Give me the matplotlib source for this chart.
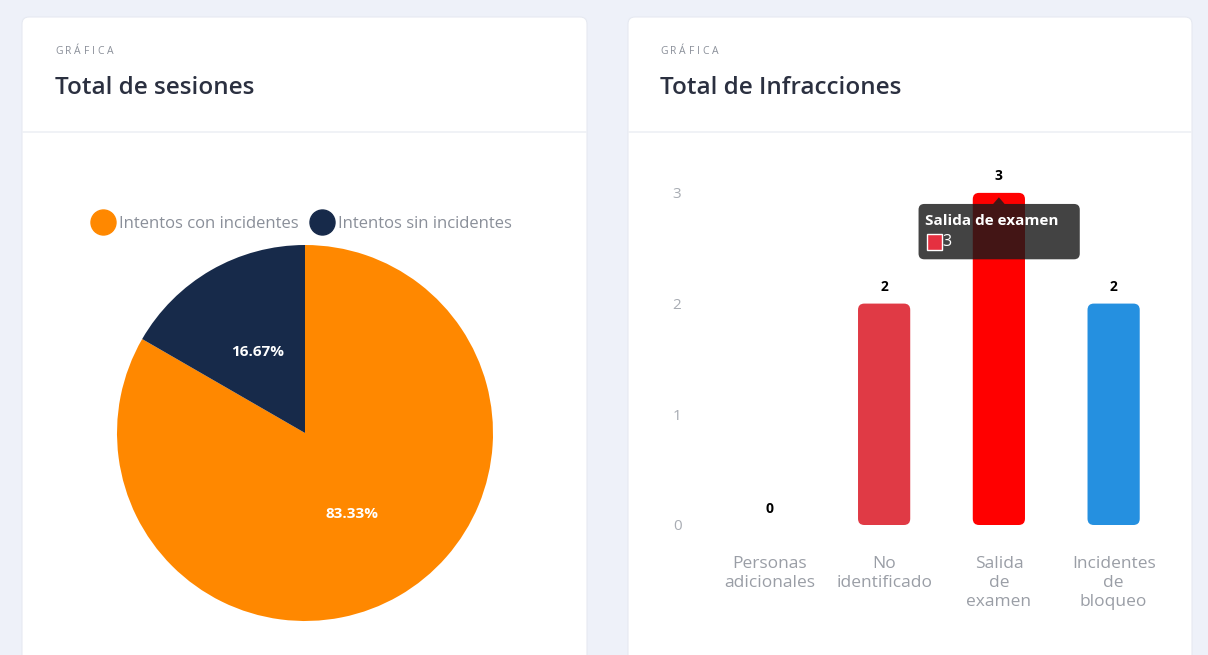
import matplotlib.pyplot as plt
from matplotlib.patches import FancyBboxPatch, Polygon
from matplotlib.lines import Line2D


W, H = 1208, 655

plt.rcParams.update({
    "font.family": ["Open Sans", "DejaVu Sans"],
    "figure.dpi": 100,
})

# session shares
session_labels = ["Intentos con incidentes", "Intentos sin incidentes"]
session_values = [83.33, 16.67]
session_colors = ["#ff8800", "#172a4a"]

# infractions per type
infraction_labels = ["Personas\nadicionales", "No\nidentificado",
                     "Salida\nde\nexamen", "Incidentes\nde\nbloqueo"]
infraction_values = [0, 2, 3, 2]
infraction_colors = ["#e03a45", "#e03a45", "#ff0000", "#2590e0"]
y_ticks = [0, 1, 2, 3]

tooltip_index = 2
tooltip_title = "Salida de examen"

bg_color = "#eef1f9"
title_color = "#2b3040"
muted = "#8a8f99"
bold = dict(fontweight="bold", fontstretch="normal")


def px_box(x0, y0, x1, y1):
    # pixel box (top-left origin) -> figure fraction rect
    return [x0 / W, 1 - y1 / H, (x1 - x0) / W, (y1 - y0) / H]


def spaced_text(ax, x, y, s, gap, **kw):
    # draw text one letter at a time with extra tracking
    r = fig.canvas.get_renderer()
    for ch in s:
        t = ax.text(x, y, ch, **kw)
        x += t.get_window_extent(r).width + gap


fig = plt.figure(figsize=(W / 100, H / 100), dpi=100)
fig.patch.set_facecolor(bg_color)

# background canvas in pixel coordinates
bg = fig.add_axes([0, 0, 1, 1])
bg.set_xlim(0, W)
bg.set_ylim(H, 0)
bg.axis("off")

for x0, x1 in [(22, 587), (628, 1192)]:
    card = FancyBboxPatch((x0, 17), x1 - x0, 660, boxstyle="round,pad=0,rounding_size=7",
                          facecolor="white", edgecolor="#e6e9f1", linewidth=0.8)
    bg.add_patch(card)
    bg.plot([x0 + 1, x1 - 1], [132, 132], color="#edf0f5", lw=1.2)

for x0, title in [(55, "Total de sesiones"), (660, "Total de Infracciones")]:
    spaced_text(bg, x0, 52, "GRÁFICA", 2.8, fontsize=7.5, color=muted,
                va="center", ha="left")
    bg.text(x0, 88, title, fontsize=17.5, fontweight="semibold", color=title_color,
            va="center", ha="left")


# pie chart
pax = fig.add_axes(px_box(117, 245, 493, 621))
wedges, texts, autotexts = pax.pie(
    session_values,
    colors=session_colors,
    startangle=90,
    counterclock=False,
    autopct="%.2f%%",
    pctdistance=0.5,
    textprops=dict(color="white", fontsize=11, **bold),
)
pax.set_xlim(-1, 1)
pax.set_ylim(-1, 1)
pax.set_aspect("equal")

handles = [
    Line2D([0], [0], marker="o", linestyle="none", markersize=18,
           markerfacecolor=c, markeredgecolor=c, label=l)
    for l, c in zip(session_labels, session_colors)
]
leg = fig.legend(handles=handles, loc="center", ncol=2, frameon=False,
                 bbox_to_anchor=(302 / W, 1 - 224 / H), handletextpad=0.35,
                 columnspacing=0.7, fontsize=12, handlelength=1.3)
for t in leg.get_texts():
    t.set_color(muted)


# bar chart
bax = fig.add_axes(px_box(712, 160, 1171, 525))
bax.set_xlim(-0.5, 3.5)
bax.set_ylim(0, 3.297)
bax.patch.set_alpha(0)

bar_w = 0.455
aspect = (1 / 110.7) / (1 / 114.7)
for i, (v, c) in enumerate(zip(infraction_values, infraction_colors)):
    if v > 0:
        bar = FancyBboxPatch((i - bar_w / 2, 0), bar_w, v,
                             boxstyle="round,pad=0,rounding_size=0.055",
                             mutation_aspect=aspect, facecolor=c, edgecolor="none")
        bax.add_patch(bar)
    bax.text(i, v + 0.085, str(v), ha="center", va="bottom", fontsize=10,
             color="black", **bold)

bax.set_yticks(y_ticks)
bax.set_yticklabels([str(t) for t in y_ticks])
bax.set_xticks(range(len(infraction_labels)))
bax.set_xticklabels(infraction_labels, linespacing=1.25)
bax.tick_params(axis="y", length=0, pad=22, labelsize=11, labelcolor="#a8acb3")
bax.tick_params(axis="x", length=0, pad=22, labelsize=12.5, labelcolor="#9a9ea6")
for s in bax.spines.values():
    s.set_visible(False)

# tooltip over the hovered bar
tx = tooltip_index
tv = infraction_values[tooltip_index]
tip_x0, tip_x1 = tx - 0.7, tx + 0.705
tip_y1 = tv - 0.1
tip_y0 = tv - 0.6
tip = FancyBboxPatch((tip_x0, tip_y0), tip_x1 - tip_x0, tip_y1 - tip_y0,
                     boxstyle="round,pad=0,rounding_size=0.05", mutation_aspect=aspect,
                     facecolor="#1a1a1a", edgecolor="none", alpha=0.82, zorder=5)
bax.add_patch(tip)
bax.add_patch(Polygon([[tx - 0.05, tip_y1], [tx + 0.05, tip_y1], [tx, tip_y1 + 0.06]],
                      closed=True, facecolor="#1a1a1a", edgecolor="none",
                      alpha=0.82, zorder=5))
bax.text(tip_x0 + 0.055, tv - 0.255, tooltip_title, fontsize=11,
         color="white", ha="left", va="center", zorder=6, **bold)
bax.add_patch(FancyBboxPatch((tip_x0 + 0.07, tv - 0.515), 0.13, 0.14,
                             boxstyle="square,pad=0", facecolor="#e53040",
                             edgecolor="white", linewidth=1, zorder=6))
bax.text(tip_x0 + 0.21, tv - 0.445, str(tv), fontsize=11.5, color="white",
         ha="left", va="center", zorder=6)

fig.savefig("out.png", dpi=100, facecolor=fig.get_facecolor())
